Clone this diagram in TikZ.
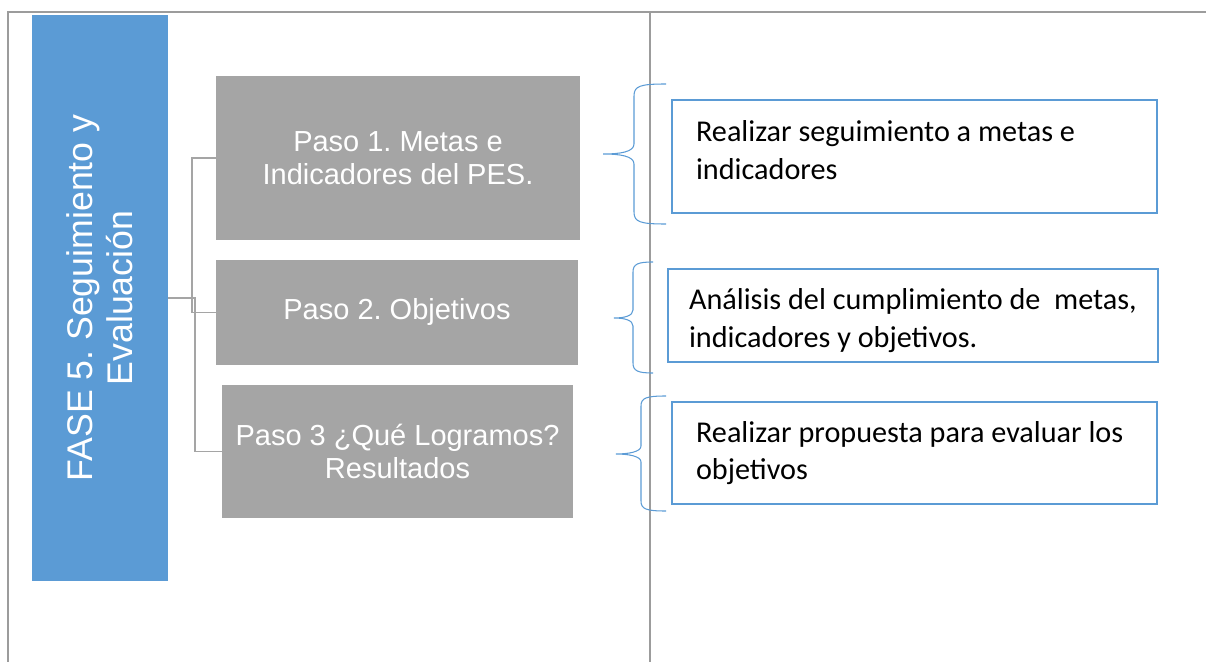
\documentclass[tikz,border=0pt]{standalone}
\usepackage{fontspec}
\setmainfont{Liberation Sans}
\newfontfamily\calibri{Carlito}
\usepackage{tikz}
\usetikzlibrary{calc}
\usetikzlibrary{positioning}

\definecolor{azul}{HTML}{5B9BD5}
\definecolor{gris}{HTML}{A5A5A5}
\definecolor{tabla}{HTML}{9C9C9C}

\begin{document}
\frenchspacing
\begin{tikzpicture}[x=0.02cm,y=-0.02cm,
    paso/.style={fill=gris, text=white, align=flush center, inner sep=0pt,
        font=\fontsize{16.5}{18.5}\selectfont},
    tarea/.style={draw=azul, line width=1.1pt, fill=white, align=flush left,
        inner xsep=0.48cm, font=\calibri\fontsize{17.2}{21.5}\selectfont},
    conn/.style={draw=gris, line width=1.1pt},
    llave/.style={draw=azul, line width=0.6pt}]

    \useasboundingbox (0,0) rectangle (1206,662);

    % tabla
    \draw[tabla, line width=1.1pt] (8,662) -- (8,12) -- (1206,12);
    \draw[tabla, line width=1.1pt] (650,12) -- (650,662);

    % fase (rotated: its south side is the right side)
    \node [fill=azul, text=white, rotate=90, align=flush center, minimum width=11.32cm, minimum height=2.72cm,
        font=\fontsize{20.3}{22.9}\selectfont] (fase) at (100,298) {FASE 5. Seguimiento y\\Evaluación};

    \node [paso, minimum width=7.28cm, minimum height=3.28cm] (paso1) at (398,158) {Paso 1. Metas e\\Indicadores del PES.};
    \node [paso, minimum width=7.24cm, minimum height=2.1cm] (paso2) at (397,312.5) {Paso 2. Objetivos};
    \node [paso, minimum width=7.02cm, minimum height=2.66cm] (paso3) at (397.5,451.5) {Paso 3 ¿Qué Logramos?\\Resultados};

    \draw[conn] (fase.south) -- ++(24,0) |- (paso1.west);
    \draw[conn] (fase.south) -- ++(24,0) |- (paso2.west);
    \draw[conn] (fase.south) -- ++(27,0) |- (paso3.west);

    % llaves
    \draw[llave] (666,84) .. controls (640,84) and (634,86) .. (634,96) -- (634,144)
        .. controls (634,152) and (620,154) .. (603,154) .. controls (620,154) and (634,156) .. (634,164)
        -- (634,212) .. controls (634,222) and (640,224) .. (666,224);
    \draw[llave] (653,262) .. controls (638,262) and (633,264) .. (633,272) -- (633,310)
        .. controls (633,316) and (624,318) .. (614,318) .. controls (624,318) and (633,320) .. (633,326)
        -- (633,363) .. controls (633,371) and (638,373) .. (653,373);
    \draw[llave] (666,396) .. controls (646,396) and (641,398) .. (641,406) -- (641,446)
        .. controls (641,452) and (628,454) .. (616,454) .. controls (628,454) and (641,456) .. (641,462)
        -- (641,501) .. controls (641,509) and (646,511) .. (666,511);

    \node [tarea, text width=8.74cm, minimum height=2.26cm, text depth=1.0cm] (tarea1) at (914.5,156.5) {Realizar seguimiento a metas e\\indicadores};
    \node [tarea, inner xsep=0.42cm, text width=8.96cm, minimum height=1.86cm, text depth=0.66cm] (tarea2) at (913,315.5) {Análisis~del~cumplimiento~de~~metas,\\indicadores y objetivos.};
    \node [tarea, text width=8.74cm, minimum height=2.04cm] (tarea3) at (914.5,453) {Realizar propuesta para evaluar los\\objetivos};

\end{tikzpicture}
\end{document}
